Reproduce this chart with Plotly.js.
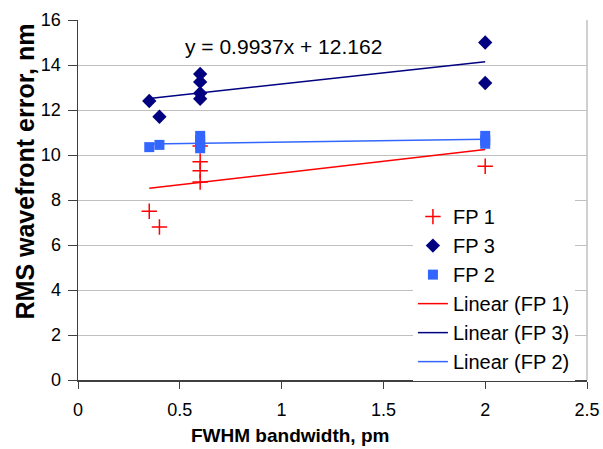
<!DOCTYPE html>
<html>
<head>
<meta charset="utf-8">
<script src="https://cdn.plot.ly/plotly-3.0.1.min.js"></script>
<style>html,body{margin:0;padding:0;background:#fff;}#chart{width:603px;height:449px;}</style>
</head>
<body>
<div id="chart"></div>
<script>
// Data
const fp1X = [0.35, 0.4, 0.6, 0.6, 0.6, 0.6, 2];
const fp1Y = [7.5, 6.8, 9.7, 9.3, 8.8, 10.4, 9.5];
const fp3X = [0.35, 0.4, 0.6, 0.6, 0.6, 0.6, 2, 2];
const fp3Y = [12.4, 11.7, 13.6, 13.25, 12.75, 12.5, 15.0, 13.2];
const fp2X = [0.35, 0.4, 0.6, 0.6, 0.6, 0.6, 2, 2, 2];
const fp2Y = [10.35, 10.45, 10.85, 10.65, 10.45, 10.3, 10.85, 10.65, 10.5];
// Linear trend lines (FP 1, FP 3, FP 2): slope and intercept
const trendNames = ['Linear (FP 1)', 'Linear (FP 3)', 'Linear (FP 2)'];
const trendSlope = [1.05, 0.9937, 0.127];
const trendIntercept = [8.15, 12.162, 10.445];
const xTickVals = [0, 0.5, 1, 1.5, 2, 2.5];
const xTickText = ['0', '0.5', '1', '1.5', '2', '2.5'];
const yTickVals = [0, 2, 4, 6, 8, 10, 12, 14, 16];
const equationText = 'y = 0.9937x + 12.162';

const FONT = '"Liberation Sans", Arial, sans-serif';
const colors = ['#ff0000', '#000080', '#3366ff'];
const xsets = [fp1X, fp3X, fp2X];

function trendLine(i) {
  const xs = xsets[i];
  const lo = Math.min(...xs), hi = Math.max(...xs);
  return {
    x: [lo, hi],
    y: [trendSlope[i] * lo + trendIntercept[i], trendSlope[i] * hi + trendIntercept[i]],
    mode: 'lines', type: 'scatter', name: trendNames[i],
    line: {color: colors[i], width: 1.5}, hoverinfo: 'skip'
  };
}

const traces = [
  trendLine(0), trendLine(1), trendLine(2),
  {x: fp1X, y: fp1Y, mode: 'markers', type: 'scatter', name: 'FP 1',
   marker: {symbol: 'cross-thin', size: 11, color: colors[0], line: {color: colors[0], width: 1.5}}},
  {x: fp3X, y: fp3Y, mode: 'markers', type: 'scatter', name: 'FP 3',
   marker: {symbol: 'diamond', size: 11, color: colors[1]}},
  {x: fp2X, y: fp2Y, mode: 'markers', type: 'scatter', name: 'FP 2',
   marker: {symbol: 'square', size: 10, color: colors[2]}}
];
// legend order: FP 1, FP 3, FP 2, Linear (FP 1), Linear (FP 3), Linear (FP 2)
const rank = [4, 5, 6, 1, 2, 3];
traces.forEach((t, i) => t.legendrank = rank[i]);

const layout = {
  width: 603, height: 449,
  margin: {l: 78, r: 16, t: 20, b: 69},
  paper_bgcolor: '#ffffff', plot_bgcolor: '#ffffff',
  font: {family: FONT, color: '#000', size: 18},
  showlegend: true,
  legend: {
    x: 0.658, y: 0.508, xanchor: 'left', yanchor: 'top',
    bgcolor: '#ffffff', borderwidth: 0,
    font: {family: FONT, size: 20, color: '#000'},
    tracegroupgap: 0, itemwidth: 30
  },
  xaxis: {
    range: [0, 2.5], tickvals: xTickVals, ticktext: xTickText,
    showgrid: false, zeroline: false,
    showline: true, linecolor: '#404040', linewidth: 1.5,
    ticks: 'outside', ticklen: 7, tickcolor: '#404040',
    ticklabelstandoff: 6,
    tickfont: {family: FONT, size: 18, color: '#000'}
  },
  yaxis: {
    range: [0, 16], tickvals: yTickVals,
    showgrid: true, gridcolor: '#c0c0c0', gridwidth: 1, zeroline: false,
    showline: true, linecolor: '#404040', linewidth: 1.5,
    ticks: 'outside', ticklen: 9, tickcolor: '#404040',
    ticklabelstandoff: 3,
    tickfont: {family: FONT, size: 18, color: '#000'}
  },
  shapes: [
    {type: 'line', xref: 'paper', yref: 'paper', x0: 1, x1: 1, y0: 0, y1: 1,
     line: {color: '#c0c0c0', width: 1.5}}
  ],
  annotations: [
    {text: equationText, xref: 'paper', yref: 'paper', x: 0.403, y: 0.925,
     xanchor: 'center', yanchor: 'middle', showarrow: false,
     font: {family: FONT, size: 21, color: '#000'}},
    {text: '<b>FWHM bandwidth, pm</b>', xref: 'paper', yref: 'paper', x: 0.416, y: -0.19,
     xanchor: 'center', yanchor: 'bottom', showarrow: false,
     font: {family: FONT, size: 19, color: '#000'}},
    {text: '<b>RMS wavefront error, nm</b>', xref: 'paper', yref: 'paper', x: -0.105, y: 0.578,
     xanchor: 'center', yanchor: 'middle', showarrow: false, textangle: -90,
     font: {family: FONT, size: 25, color: '#000'}}
  ]
};

Plotly.newPlot('chart', traces, layout, {displayModeBar: false, staticPlot: true});
</script>
</body>
</html>
